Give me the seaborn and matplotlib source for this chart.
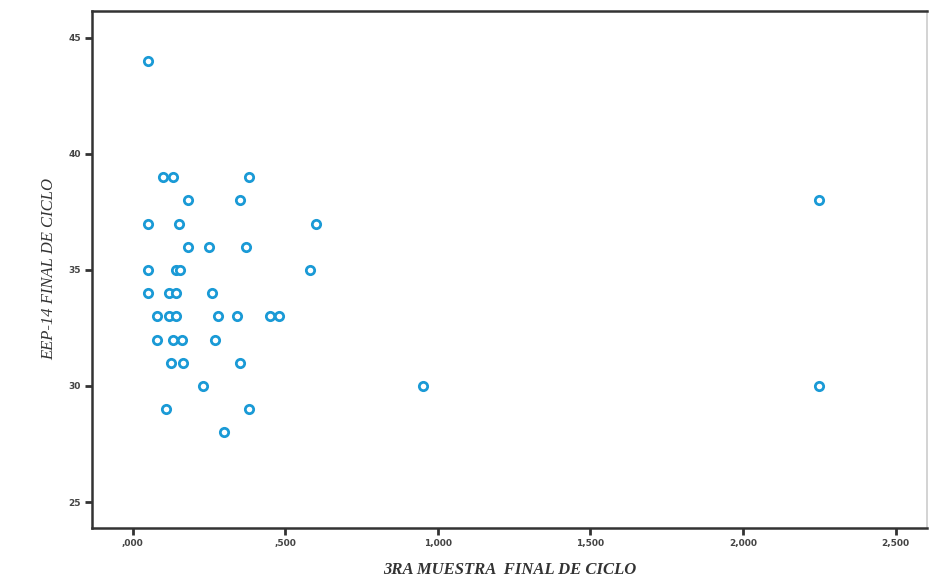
import matplotlib
matplotlib.use("Agg")
import matplotlib.pyplot as plt
import seaborn as sns
import pandas as pd

# Data
muestra3 = [0.05,
            0.10, 0.13, 0.38,
            0.18, 0.35, 2.25,
            0.05, 0.15, 0.60,
            0.18, 0.25, 0.37,
            0.05, 0.14, 0.155, 0.58,
            0.05, 0.12, 0.14, 0.26,
            0.08, 0.12, 0.14, 0.28, 0.34, 0.45, 0.48,
            0.08, 0.13, 0.16, 0.27,
            0.125, 0.164, 0.35,
            0.23, 0.95, 2.25,
            0.11, 0.38,
            0.30]
eep14 = [44,
         39, 39, 39,
         38, 38, 38,
         37, 37, 37,
         36, 36, 36,
         35, 35, 35, 35,
         34, 34, 34, 34,
         33, 33, 33, 33, 33, 33, 33,
         32, 32, 32, 32,
         31, 31, 31,
         30, 30, 30,
         29, 29,
         28]

x_ticks = [0.0, 0.5, 1.0, 1.5, 2.0, 2.5]
x_tick_labels = [",000", ",500", "1,000", "1,500", "2,000", "2,500"]
y_ticks = [25, 30, 35, 40, 45]
y_tick_labels = ["25", "30", "35", "40", "45"]

df = pd.DataFrame({"x": muestra3, "y": eep14})

sns.set_style("white")
fig = plt.figure(figsize=(9.35, 5.83), dpi=100)
ax = fig.add_axes([92/935, 55/583, (927-92)/935, (528-11)/583])

sns.scatterplot(data=df, x="x", y="y", ax=ax, marker="o", s=36,
                facecolor="white", edgecolor="#1a9ad6", linewidth=2.0,
                legend=False)

ax.set_xlim(-0.134, 2.603)
ax.set_ylim(23.88, 46.16)
ax.set_xticks(x_ticks)
ax.set_xticklabels(x_tick_labels)
ax.set_yticks(y_ticks)
ax.set_yticklabels(y_tick_labels)

ax.tick_params(axis="both", direction="out", length=5, width=2,
               color="#333333", labelsize=6.5, labelcolor="#444444", pad=3,
               bottom=True, left=True)
for lab in ax.get_xticklabels() + ax.get_yticklabels():
    lab.set_fontweight("bold")

for side in ["left", "bottom", "top"]:
    ax.spines[side].set_color("#333333")
    ax.spines[side].set_linewidth(1.8)
ax.spines["right"].set_color("#cccccc")
ax.spines["right"].set_linewidth(1.2)

ax.set_xlabel("3RA MUESTRA  FINAL DE CICLO", fontsize=12, fontstyle="italic",
              fontweight="bold", family="Liberation Serif", color="#333333",
              labelpad=10)
ax.set_ylabel("EEP-14 FINAL DE CICLO", fontsize=12, fontstyle="italic",
              family="Liberation Serif", color="#333333", labelpad=8)

fig.savefig("out.png", dpi=100)
